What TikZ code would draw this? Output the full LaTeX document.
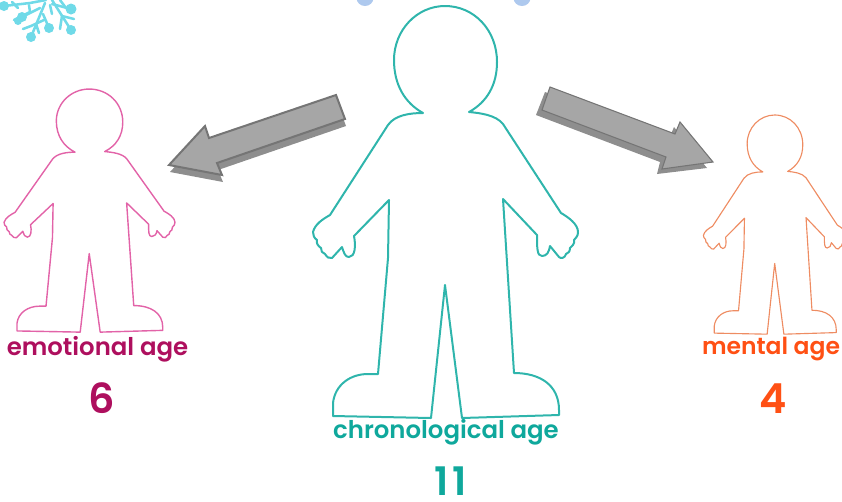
\documentclass[tikz,border=0pt]{standalone}
\usepackage{fontspec}
\setmainfont{Poppins}[BoldFont=Poppins SemiBold]
\definecolor{tealline}{HTML}{2FB5AC}
\definecolor{pinkline}{HTML}{E263A8}
\definecolor{orangeline}{HTML}{EE8C62}
\definecolor{tealtext}{HTML}{0FA89C}
\definecolor{pinktext}{HTML}{AE0F5E}
\definecolor{orangetext}{HTML}{FF5014}
\definecolor{arrowfill}{HTML}{A6A6A6}
\definecolor{arrowedge}{HTML}{757575}
\definecolor{arrowshadow}{HTML}{8E8E8E}
\definecolor{flake}{HTML}{70DAE8}
\definecolor{blob}{HTML}{AEC9EE}
\newcommand{\personpath}{
(423,113) .. controls (405,103) and (394,85) .. (394,60)
.. controls (394,30) and (417,6) .. (445,6)
.. controls (474,6) and (497,30) .. (497,62)
.. controls (497,85) and (487,102) .. (469,112)
.. controls (480,113) and (496,115) .. (503,124)
-- (561,213) .. controls (568,217) and (578,224) .. (578,232)
.. controls (578,236) and (576,238) .. (574,240)
.. controls (575,244) and (572,246) .. (570,248)
.. controls (570,252) and (568,253) .. (566,254)
.. controls (565,258) and (561,259) .. (559,257)
-- (550,246) .. controls (549,252) and (547,256) .. (542,256)
.. controls (537,256) and (537,248) .. (537,235)
-- (503,199) -- (514,373)
.. controls (540,373) and (559,385) .. (559,410)
-- (559,415) -- (462,418) -- (445,285) -- (431,418) -- (333,416) -- (333,403)
.. controls (335,385) and (350,374) .. (368,374)
-- (378,374) -- (388,258) -- (389,200) -- (354,236)
.. controls (356,246) and (355,257) .. (349,257)
.. controls (345,257) and (344,253) .. (342,247)
-- (332,258) .. controls (329,259) and (327,257) .. (325,254)
.. controls (322,253) and (321,251) .. (321,248)
.. controls (318,246) and (316,243) .. (317,240)
.. controls (314,238) and (313,235) .. (313,232)
.. controls (315,224) and (323,219) .. (330,215)
-- (388,125) .. controls (395,115) and (410,113) .. (423,113) -- cycle}
\tikzset{
 person/.style={line join=round},
 agelabel/.style={font=\bfseries\fontsize{18.3pt}{20pt}\selectfont,anchor=base,inner sep=0pt},
 agenum/.style={font=\bfseries\fontsize{31pt}{32pt}\selectfont,anchor=base,inner sep=0pt},
 bigarrow/.style={fill=arrowfill,draw=arrowedge,line join=miter},
 shadowarrow/.style={fill=arrowshadow,draw=none},
 flakeline/.style={draw=flake,line width=1.9pt,line cap=round},
 flakedot/.style={fill=flake,draw=none}
}
\begin{document}
\begin{tikzpicture}[x=.75pt,y=-.75pt]
\useasboundingbox (0,0) rectangle (842,501);
\begin{scope}
\clip (0,0) rectangle (842,501);
% top blobs
\fill[blob] (365,-2) ellipse (8.5 and 8);
\fill[blob] (522,-2) ellipse (8.5 and 8);
% snowflake
\draw[flakeline] (45,3) -- (31,37);
\draw[flakeline] (23,29) -- (31,26) -- (44,20);
\draw[flakeline] (39,33) -- (36,24);
\draw[flakeline] (43,14) -- (49,28);
\draw[flakeline] (40,8) -- (22,17);
\draw[flakeline] (14,20) -- (30,12) -- (29,5);
\draw[flakeline] (52,0) -- (71,30);
\draw[flakeline] (60,29) -- (62,16) -- (74,19);
\draw[flakeline] (50,5) -- (52,14);
\draw[flakeline] (52,4) -- (71,9);
\draw[flakeline] (60,0) -- (66,8);
\draw[flakeline] (4,6) -- (30,3) -- (46,0);
\draw[flakeline] (12,2) -- (18,8);
\fill[flakedot] (4,6) circle (5);
\fill[flakedot] (22,17) circle (5);
\fill[flakedot] (18,21) circle (4);
\fill[flakedot] (31,37) circle (5);
\fill[flakedot] (49,28) circle (5);
\fill[flakedot] (71,30) circle (5);
\fill[flakedot] (71,9) circle (5.5);
\end{scope}
% figures
\draw[person,draw=tealline,line width=1.5pt] \personpath;
\begin{scope}[shift={(-197.8,85.5)},xscale=.645,yscale=.59]
\draw[person,draw=pinkline,line width=1.05pt] \personpath;
\end{scope}
\begin{scope}[shift={(534.4,111.8)},xscale=.54,yscale=.532]
\draw[person,draw=orangeline,line width=.85pt] \personpath;
\end{scope}
% arrows
\path[shadowarrow] (337,102) -- (346,126) -- (218,170) -- (223,182) -- (170,172) -- (206,133) -- (210,145) -- cycle;
\path[bigarrow,line width=1.5pt] (336,95) -- (345,119) -- (217,163) -- (222,175) -- (169,165) -- (205,126) -- (209,138) -- cycle;
\path[shadowarrow] (545,92) -- (536,115) -- (660,162) -- (657,174) -- (707,168) -- (674,127) -- (669,139) -- cycle;
\path[bigarrow,line width=.8pt] (550,87) -- (542,110) -- (666,157) -- (662,169) -- (713,162) -- (680,122) -- (675,134) -- cycle;
% texts
\node[agelabel,text=pinktext] (emo) at (97.5,355) {emotional age};
\node[agenum,text=pinktext] (emonum) at (102,413) {6};
\node[agelabel,text=tealtext] (chr) at (446,438) {chronological age};
\node[agenum,text=tealtext,font=\bfseries\fontsize{29.5pt}{31pt}\selectfont] (chrnum) at (451,495) {1\kern3pt 1};
\node[agelabel,text=orangetext,font=\bfseries\fontsize{17.6pt}{20pt}\selectfont] (men) at (771,354) {mental age};
\node[agenum,text=orangetext] (mennum) at (773,413) {4};
\end{tikzpicture}
\end{document}
